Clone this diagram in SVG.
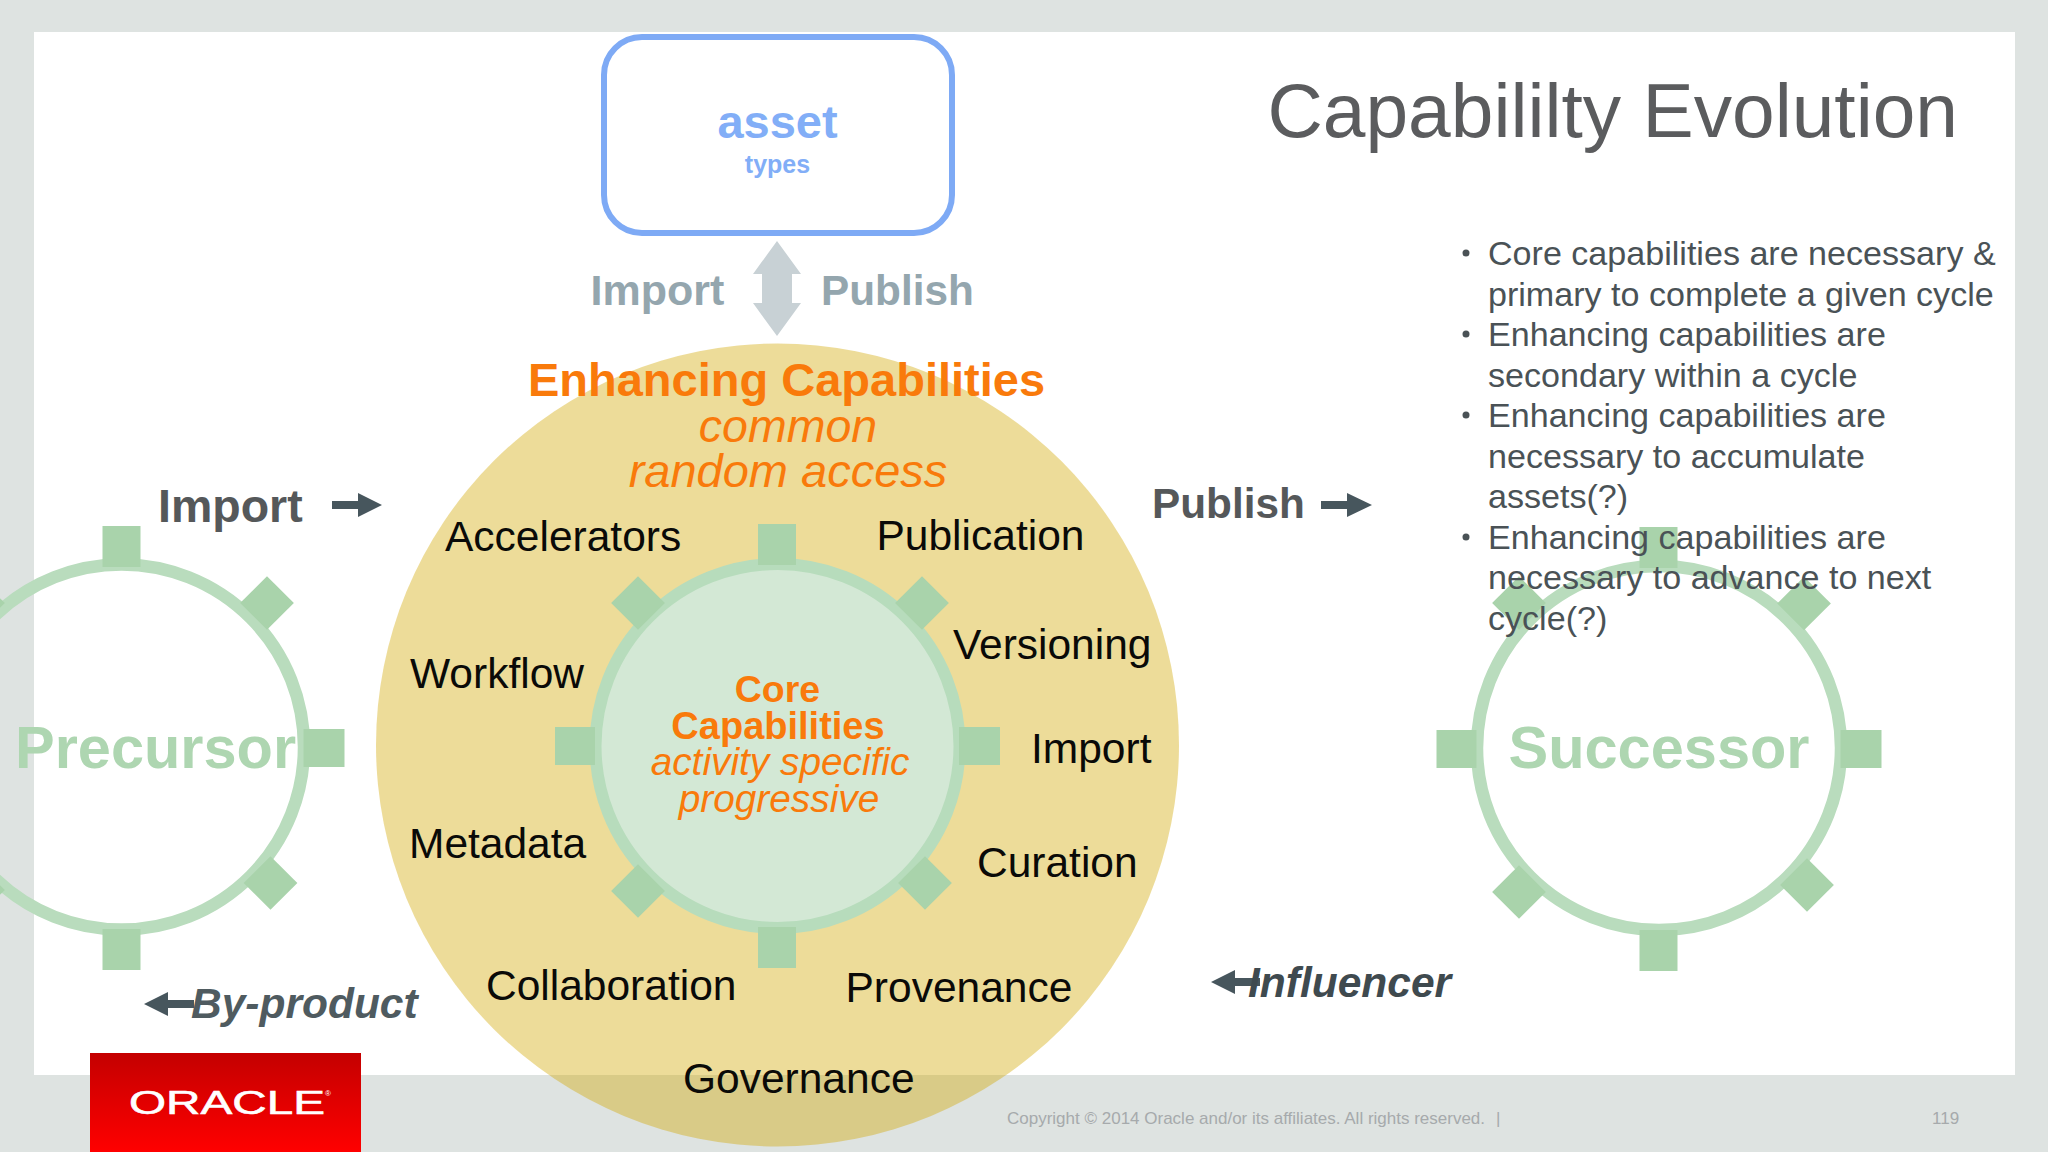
<svg xmlns="http://www.w3.org/2000/svg" width="2048" height="1152" viewBox="0 0 2048 1152">
<defs>
<style>
text{font-family:"Liberation Sans",Arial,sans-serif}
.lab{font-size:42.500px;fill:#0a0a08}
.or{fill:#f97a0b}
.b{font-weight:700}
.i{font-style:italic}
.mid{text-anchor:middle}
.bul{font-size:34.100px;fill:#4a5256}
.tooth{fill:#a9d3ab}
.ring{fill:none;stroke:#b9dcbd;stroke-width:12.500}
.gear{font-size:59.500px;font-weight:700;fill:#aed6b1}
.arr{fill:#47565d}
.foot{font-size:17px;fill:#a6aaac}
</style>
<linearGradient id="red" x1="0" y1="0" x2="0" y2="1"><stop offset="0" stop-color="#c40000"/><stop offset="1" stop-color="#ff0000"/></linearGradient>
<g id="teeth">
<rect class="tooth" x="-19" y="-222" width="38" height="41"/>
<rect class="tooth" x="-19" y="181" width="38" height="41"/>
<rect class="tooth" x="-222" y="-19" width="40" height="38"/>
<rect class="tooth" x="182" y="-19" width="41" height="38"/>
</g>
<rect id="dia" class="tooth" x="-19" y="-19" width="38" height="38" transform="rotate(45)"/>
</defs>
<rect id="bg" width="2048" height="1152" fill="#dee3e1"/>
<rect id="slide" x="34" y="32" width="1981" height="1043" fill="#fff"/>
<g id="connectors">
<path id="arrow-double" fill="#c8d1d5" d="M777 241L801 274H792V303H801L777 336L753 303H762V274H753Z"/>
<path id="arrow-import" class="arr" d="M332 501H358V493L382 505L358 517V509H332Z"/>
<path id="arrow-publish" class="arr" d="M1321 501H1347V493L1372 505L1347 517V509H1321Z"/>
<path id="arrow-byproduct" class="arr" d="M194 1000H168V992L144 1004L168 1016V1008H194Z"/>
<path id="arrow-influencer" class="arr" d="M1260 978H1235V970L1211 982L1235 994V986H1260Z"/>
</g>
<g id="enhancing">
<circle cx="777.500" cy="745" r="401.500" fill="#d2a700" fill-opacity=".4"/>
<text class="or b mid" x="786.500" y="396" font-size="47">Enhancing Capabilities</text>
<text class="or i mid" x="788" y="442" font-size="46.500">common</text>
<text class="or i mid" x="788" y="487" font-size="47">random access</text>
<text class="lab" x="445" y="551">Accelerators</text>
<text class="lab" x="876.500" y="550">Publication</text>
<text class="lab" x="953" y="659">Versioning</text>
<text class="lab" x="1031" y="763">Import</text>
<text class="lab" x="977" y="877">Curation</text>
<text class="lab" x="845.500" y="1002">Provenance</text>
<text class="lab" x="683" y="1093">Governance</text>
<text class="lab" x="486" y="1000">Collaboration</text>
<text class="lab" x="409" y="858">Metadata</text>
<text class="lab" x="410" y="688">Workflow</text>
</g>
<g id="core">
<circle cx="777.500" cy="746" r="182" fill="#d3e8d5" stroke="#b7dcbc" stroke-width="12"/>
<use href="#teeth" x="777" y="746"/>
<use href="#dia" x="638" y="603"/>
<use href="#dia" x="922" y="603"/>
<use href="#dia" x="638" y="891"/>
<use href="#dia" x="925" y="883"/>
<text class="or b mid" x="777.500" y="702" font-size="37.500">Core</text>
<text class="or b mid" x="778" y="739" font-size="38">Capabilities</text>
<text class="or i mid" x="780" y="775" font-size="38.800">activity specific</text>
<text class="or i mid" x="779" y="812" font-size="38.800">progressive</text>
</g>
<g id="precursor">
<circle class="ring" cx="121.500" cy="747" r="182.500"/>
<use href="#teeth" x="121.500" y="748"/>
<use href="#dia" x="267" y="603"/>
<use href="#dia" x="270.500" y="883"/>
<use href="#dia" x="-22" y="603"/>
<use href="#dia" x="-22" y="890"/>
<text class="gear" x="15" y="768">Precursor</text>
</g>
<g id="successor">
<circle class="ring" cx="1659" cy="748" r="182"/>
<use href="#teeth" x="1658.500" y="749"/>
<use href="#dia" x="1519" y="603"/>
<use href="#dia" x="1804" y="603.500"/>
<use href="#dia" x="1519" y="892"/>
<use href="#dia" x="1807" y="885"/>
<text class="gear" x="1508.500" y="768">Successor</text>
</g>
<g id="asset">
<rect x="604" y="37" width="348" height="196" rx="38" fill="#fff" stroke="#7eaaf5" stroke-width="6"/>
<text class="b mid" x="777.500" y="138" font-size="47" fill="#82aef7">asset</text>
<text class="b mid" x="777.500" y="173" font-size="25" fill="#82aef7">types</text>
</g>
<g id="labels">
<text class="b" x="590.500" y="305" font-size="43" fill="#94a6ae">Import</text>
<text class="b" x="821" y="305" font-size="42.300" fill="#94a6ae">Publish</text>
<text class="b" x="158" y="522" font-size="46.500" fill="#55585a">Import</text>
<text class="b" x="1152" y="518" font-size="42.300" fill="#55585a">Publish</text>
<text class="b i" x="191" y="1018" font-size="42.500" fill="#4f5b60">By-product</text>
<text class="b i" x="1248" y="997" font-size="42.500" fill="#3f4a4f">Influencer</text>
</g>
<text id="title" x="1958" y="137" text-anchor="end" font-size="76.700" fill="#5b5c5e">Capabililty Evolution</text>
<g id="bullets">
<circle cx="1466" cy="253" r="3.500" fill="#4a5256"/>
<circle cx="1466" cy="334" r="3.500" fill="#4a5256"/>
<circle cx="1466" cy="415" r="3.500" fill="#4a5256"/>
<circle cx="1466" cy="537" r="3.500" fill="#4a5256"/>
<text class="bul" x="1488" y="265">Core capabilities are necessary &amp;</text>
<text class="bul" x="1488" y="305.500">primary to complete a given cycle</text>
<text class="bul" x="1488" y="346">Enhancing capabilities are</text>
<text class="bul" x="1488" y="386.500">secondary within a cycle</text>
<text class="bul" x="1488" y="427">Enhancing capabilities are</text>
<text class="bul" x="1488" y="467.500">necessary to accumulate</text>
<text class="bul" x="1488" y="508">assets(?)</text>
<text class="bul" x="1488" y="548.500">Enhancing capabilities are</text>
<text class="bul" x="1488" y="589">necessary to advance to next</text>
<text class="bul" x="1488" y="629.500">cycle(?)</text>
</g>
<g id="oracle">
<rect x="90" y="1053" width="271" height="99" fill="url(#red)"/>
<text x="129" y="1114" font-size="33" fill="#fff" stroke="#fff" stroke-width=".6" textLength="196" lengthAdjust="spacingAndGlyphs">ORACLE</text>
<text x="325" y="1096" font-size="8" fill="#fff">®</text>
</g>
<g id="footer">
<text class="foot" x="1007" y="1124">Copyright © 2014 Oracle and/or its affiliates. All rights reserved.</text>
<text class="foot" x="1496" y="1124">|</text>
<text class="foot" x="1932" y="1124">119</text>
</g>
</svg>
